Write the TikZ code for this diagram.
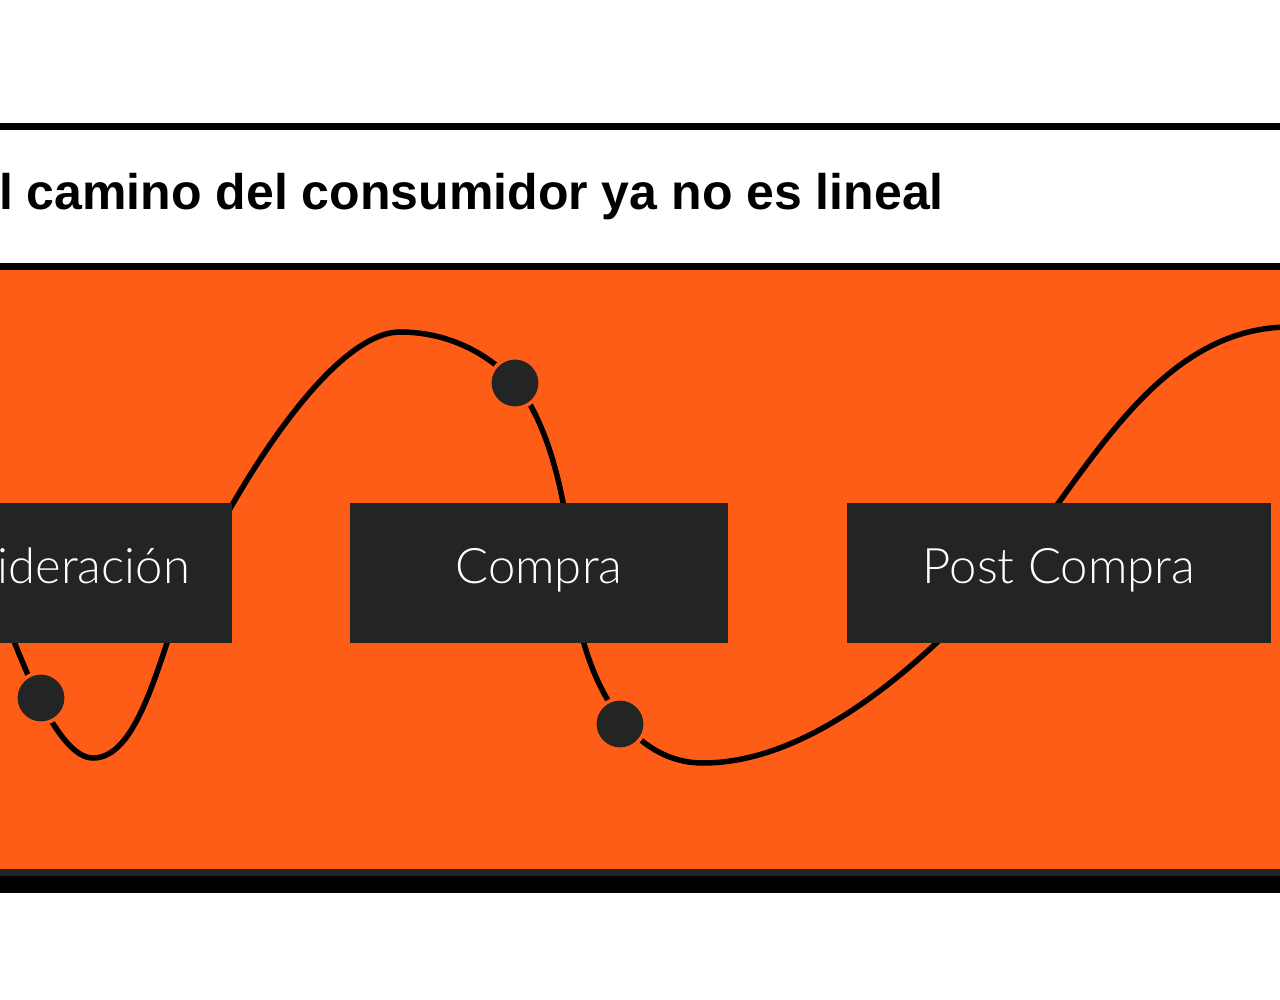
\documentclass[tikz,border=0pt]{standalone}
\usepackage{fontspec}
\setmainfont{Liberation Sans}
\newfontfamily\etapafont{Lato Light}
\definecolor{naranja}{RGB}{254,93,24}
\definecolor{gris}{RGB}{35,37,36}
\tikzset{
    etapa/.style={fill=gris,text=white,inner sep=0pt,minimum height=140pt,
        text height=30pt,text depth=10pt,font=\etapafont\fontsize{49}{49}\selectfont},
    punto/.style={circle,fill=gris,draw=naranja,line width=3.5pt,minimum size=50.5pt,inner sep=0pt}
}
\begin{document}
\begin{tikzpicture}[x=1pt,y=-1pt]
                \useasboundingbox (0,0) rectangle (1280,1000);
                \clip (0,0) rectangle (1280,1000);
                \def\ancho{1280}
                \fill[white] (0,0) rectangle (\ancho,1000);
                \fill[black] (0,123) rectangle (\ancho,130);
                \fill[black] (0,263) rectangle (\ancho,270);
                \fill[naranja] (0,270) rectangle (\ancho,869);
                \fill[gris] (0,869) rectangle (\ancho,876);
                \fill[black] (0,876) rectangle (\ancho,893);
                \node[anchor=base east,inner sep=0pt,font=\bfseries\fontsize{50}{60}\selectfont] (titulo) at (944,210) {El camino del consumidor ya no es lineal};
                %===========================================
                \coordinate (c1) at (41,698);
                \coordinate (c2) at (515,383);
                \coordinate (c3) at (620,724);
                \draw[line width=5.5pt] (-15,560) .. controls (20,665) and (58,758) .. (93,758)
                    .. controls (128,758) and (148,700) .. (167,643)
                    .. controls (200,545) and (320,332) .. (400,332)
                    .. controls (450,332) and (490,355) .. (c2)
                    .. controls (545,417) and (566,490) .. (572,570)
                    .. controls (576,660) and (620,763) .. (703,763)
                    .. controls (790,763) and (890,700) .. (1000,578)
                    .. controls (1080,490) and (1150,327) .. (1290,327);
                \node[etapa,anchor=east,inner xsep=42pt] (consideracion) at (232,573) {Consideración};
                \node[etapa,minimum width=378pt] (compra) at (539,573) {Compra};
                \node[etapa,minimum width=424pt] (postcompra) at (1059,573) {Post Compra};
                \node[punto] (p1) at (c1) {};
                \node[punto] (p2) at (c2) {};
                \node[punto] (p3) at (c3) {};
\end{tikzpicture}
\end{document}
